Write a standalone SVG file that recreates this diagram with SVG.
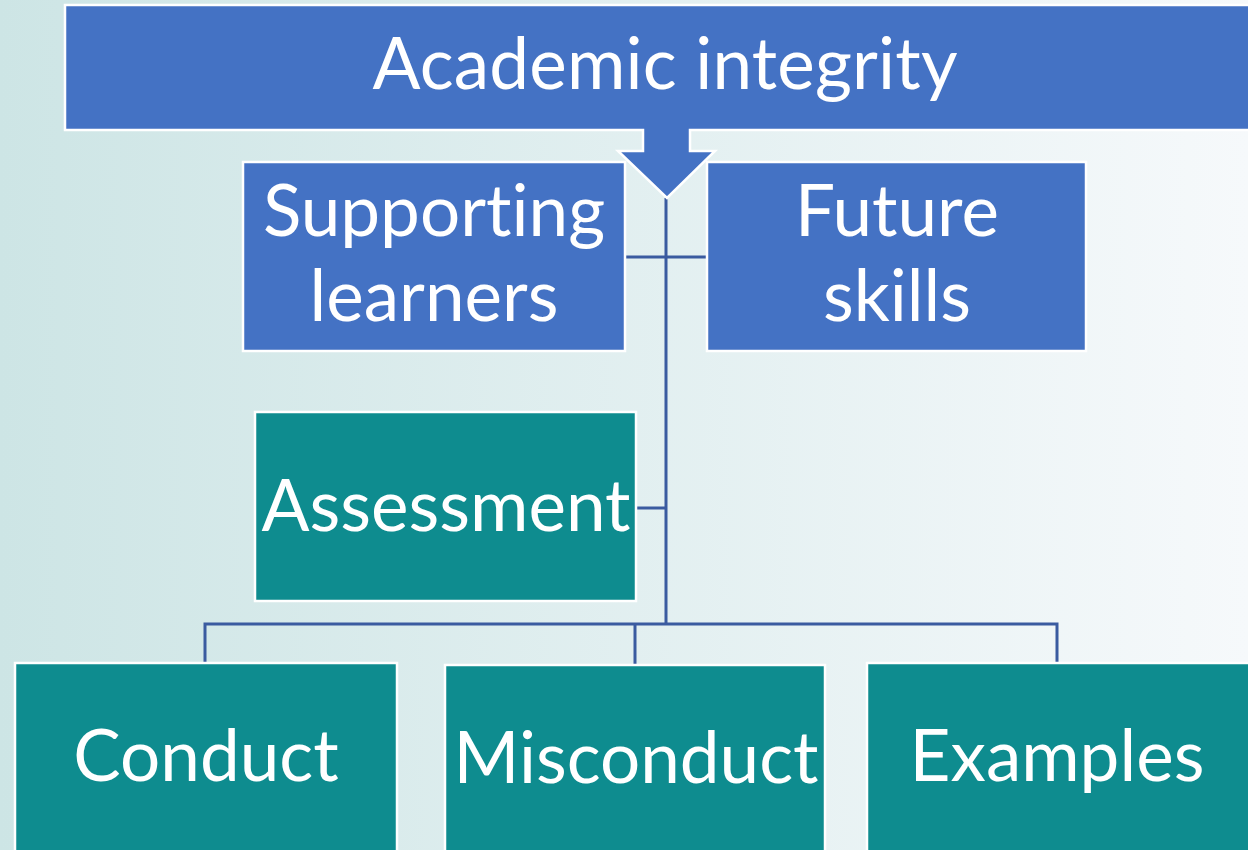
<svg xmlns="http://www.w3.org/2000/svg" width="1248" height="850" viewBox="0 0 1248 850">
<defs>
<linearGradient id="bg" x1="0" y1="0" x2="1" y2="0">
<stop offset="0" stop-color="#cde5e5"/>
<stop offset="1" stop-color="#f6f9fb"/>
</linearGradient>
</defs>
<style>
.blue{fill:#4472c4;stroke:#ffffff;stroke-width:2.5}
.teal{fill:#0e8c8f;stroke:#ffffff;stroke-width:2.5}
.t{font-family:Lato,"Open Sans","Liberation Sans",sans-serif;fill:#ffffff;text-anchor:middle;font-size:71px;font-variant-ligatures:none}
.c{fill:none;stroke:#3a5ba0;stroke-width:3}
</style>
<rect x="0" y="0" width="1248" height="850" fill="url(#bg)"/>
<g id="connectors">
<path class="c" d="M666 198 V625"/>
<path class="c" d="M625 257 H707"/>
<path class="c" d="M636 508 H666"/>
<path class="c" d="M205 663 V624 H1057 V663"/>
<path class="c" d="M635 665 V624"/>
</g>
<g id="academic">
<path class="blue" d="M65 5 H1252 V130 H690 V151 H715 L667 198 L618 151 H643 V130 H65 Z"/>
<text class="t" x="665" y="89" textLength="585">Academic integrity</text>
</g>
<g id="supporting">
<rect class="blue" x="243" y="162" width="382" height="189"/>
<text class="t" x="434" y="236">Supporting</text>
<text class="t" x="434" y="321">learners</text>
</g>
<g id="future">
<rect class="blue" x="707" y="162" width="379" height="189"/>
<text class="t" x="897" y="236">Future</text>
<text class="t" x="897" y="321">skills</text>
</g>
<g id="assessment">
<rect class="teal" x="255" y="412" width="381" height="189"/>
<text class="t" x="446" y="531">Assessment</text>
</g>
<g id="conduct">
<rect class="teal" x="15" y="663" width="382" height="200"/>
<text class="t" x="206" y="781">Conduct</text>
</g>
<g id="misconduct">
<rect class="teal" x="445" y="665" width="380" height="200"/>
<text class="t" x="636" y="783">Misconduct</text>
</g>
<g id="examples">
<rect class="teal" x="867" y="663" width="385" height="200"/>
<text class="t" x="1057" y="781">Examples</text>
</g>
</svg>
